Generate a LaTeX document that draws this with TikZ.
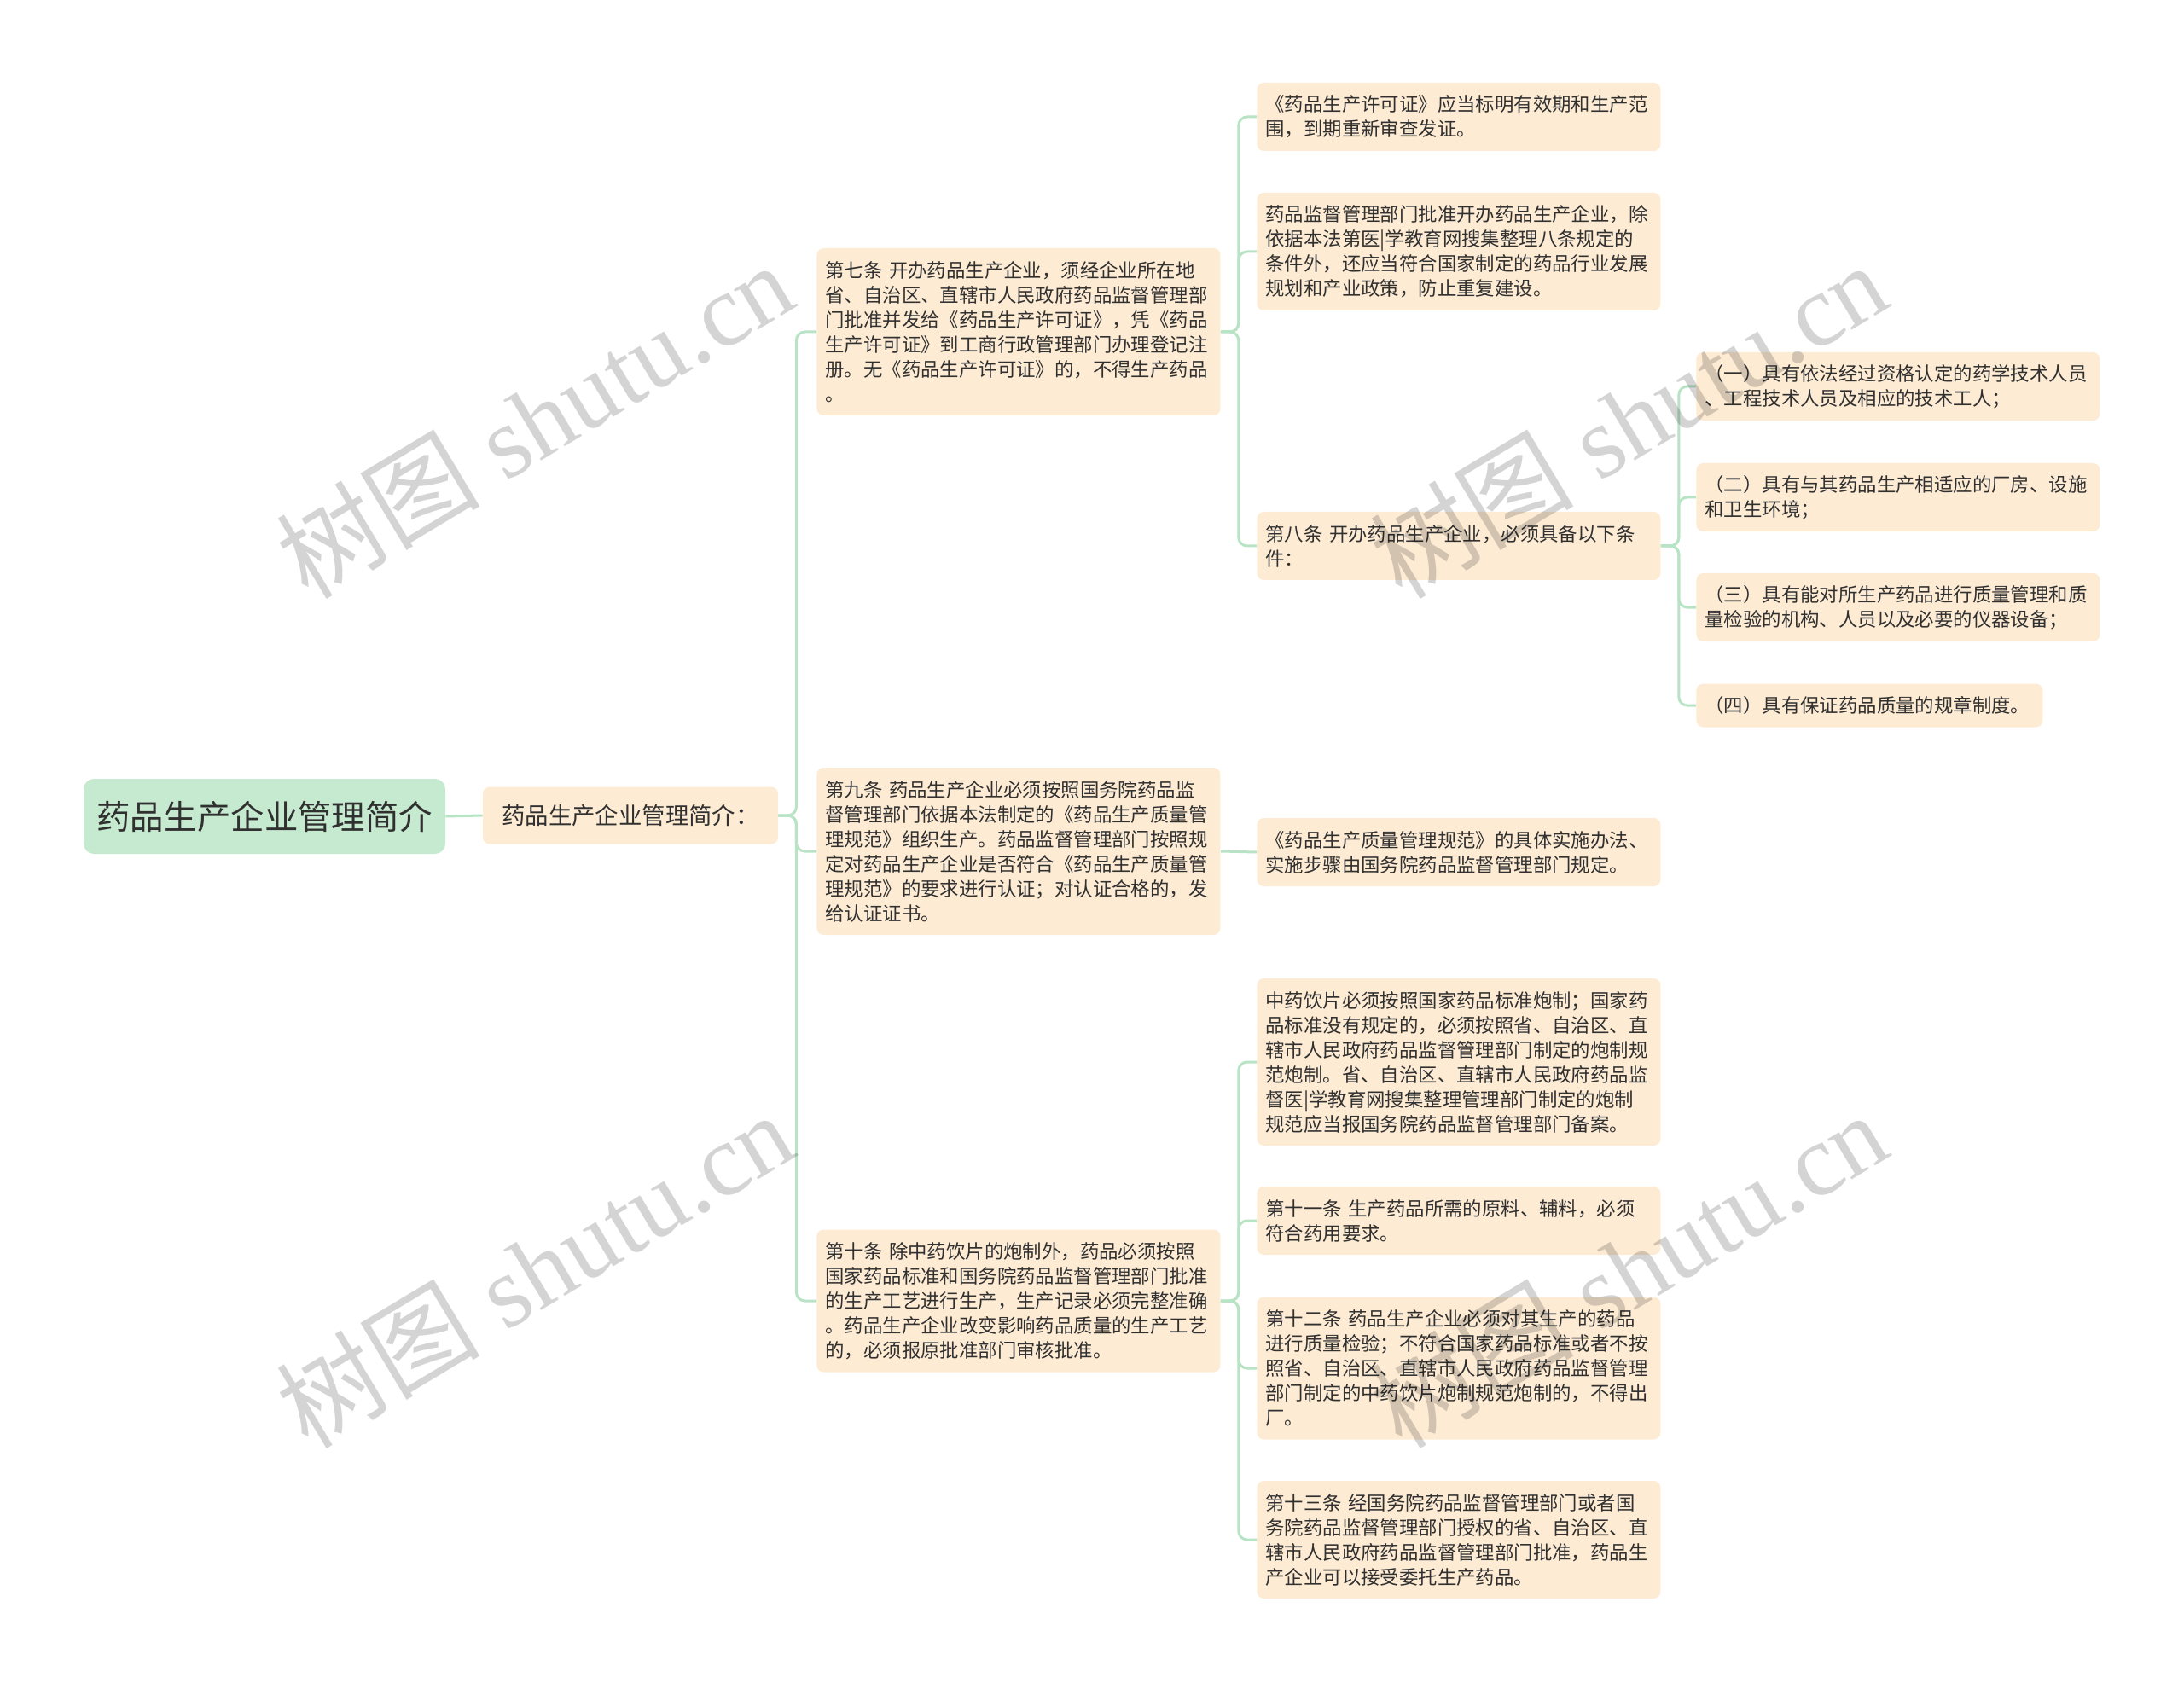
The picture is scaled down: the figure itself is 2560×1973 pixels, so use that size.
\documentclass[tikz,border=0pt]{standalone}
\usepackage{fontspec}
\setmainfont{Noto Sans CJK SC}
\newfontfamily\markfont{Liberation Serif}
\usepackage{tikz}

\definecolor{rootgreen}{RGB}{197,234,207}
\definecolor{notepeach}{RGB}{253,235,212}
\definecolor{linkgreen}{RGB}{184,228,197}
\definecolor{inkgray}{RGB}{48,48,48}

\begin{document}
\begin{tikzpicture}[x=0.5pt, y=-0.5pt,
		every node/.style={text=inkgray},
		rootbox/.style={fill=rootgreen, rounded corners=6pt, minimum width=212pt, minimum height=44pt, font=\fontsize{19.7pt}{24pt}\selectfont},
		introbox/.style={fill=notepeach, rounded corners=4pt, minimum width=173pt, minimum height=33.5pt, font=\fontsize{13.7pt}{16pt}\selectfont},
		notebox/.style={fill=notepeach, rounded corners=4pt, anchor=west, align=left, inner xsep=5pt, inner ysep=1pt, text width=226.5pt, minimum height={#1*14.5pt+11pt}, font=\fontsize{11.2pt}{14.5pt}\selectfont},
		link/.style={draw=linkgreen, line width=1.5pt, rounded corners=5pt},
		watermark/.style={anchor=base west, rotate=31, text=black, text opacity=0.17, font=\markfont\fontsize{60pt}{60pt}\selectfont}]
			\useasboundingbox (0,0) rectangle (2560,1973);
			
			% Root and first level
			\node[rootbox] (root) at (310,957) {药品生产企业管理简介};
			\node[introbox] (intro) at (739,956) {药品生产企业管理简介：};
			
			% Second level: articles
			\node[notebox=6] (art7) at (957,389) {第七条 开办药品生产企业，须经企业所在地\\省、自治区、直辖市人民政府药品监督管理部\\门批准并发给《药品生产许可证》，凭《药品\\生产许可证》到工商行政管理部门办理登记注\\册。无《药品生产许可证》的，不得生产药品\\。};
			\node[notebox=6] (art9) at (957,998) {第九条 药品生产企业必须按照国务院药品监\\督管理部门依据本法制定的《药品生产质量管\\理规范》组织生产。药品监督管理部门按照规\\定对药品生产企业是否符合《药品生产质量管\\理规范》的要求进行认证；对认证合格的，发\\给认证证书。};
			\node[notebox=5] (art10) at (957,1525) {第十条 除中药饮片的炮制外，药品必须按照\\国家药品标准和国务院药品监督管理部门批准\\的生产工艺进行生产，生产记录必须完整准确\\。药品生产企业改变影响药品质量的生产工艺\\的，必须报原批准部门审核批准。};
			
			% Third level
			\node[notebox=2] (permit) at (1473,137) {《药品生产许可证》应当标明有效期和生产范\\围，到期重新审查发证。};
			\node[notebox=4] (approve) at (1473,295) {药品监督管理部门批准开办药品生产企业，除\\依据本法第医|学教育网搜集整理八条规定的\\条件外，还应当符合国家制定的药品行业发展\\规划和产业政策，防止重复建设。};
			\node[notebox=2] (art8) at (1473,640) {第八条 开办药品生产企业，必须具备以下条\\件：};
			\node[notebox=2] (gmp) at (1473,999) {《药品生产质量管理规范》的具体实施办法、\\实施步骤由国务院药品监督管理部门规定。};
			\node[notebox=6] (herbal) at (1473,1245) {中药饮片必须按照国家药品标准炮制；国家药\\品标准没有规定的，必须按照省、自治区、直\\辖市人民政府药品监督管理部门制定的炮制规\\范炮制。省、自治区、直辖市人民政府药品监\\督医|学教育网搜集整理管理部门制定的炮制\\规范应当报国务院药品监督管理部门备案。};
			\node[notebox=2] (art11) at (1473,1431) {第十一条 生产药品所需的原料、辅料，必须\\符合药用要求。};
			\node[notebox=5] (art12) at (1473,1604) {第十二条 药品生产企业必须对其生产的药品\\进行质量检验；不符合国家药品标准或者不按\\照省、自治区、直辖市人民政府药品监督管理\\部门制定的中药饮片炮制规范炮制的，不得出\\厂。};
			\node[notebox=4] (art13) at (1473,1805) {第十三条 经国务院药品监督管理部门或者国\\务院药品监督管理部门授权的省、自治区、直\\辖市人民政府药品监督管理部门批准，药品生\\产企业可以接受委托生产药品。};
			
			% Fourth level: conditions of article 8
			\node[notebox=2] (cond1) at (1988,453) {（一）具有依法经过资格认定的药学技术人员\\、工程技术人员及相应的技术工人；};
			\node[notebox=2] (cond2) at (1988,583) {（二）具有与其药品生产相适应的厂房、设施\\和卫生环境；};
			\node[notebox=2] (cond3) at (1988,712) {（三）具有能对所生产药品进行质量管理和质\\量检验的机构、人员以及必要的仪器设备；};
			\node[notebox=1, text width=193pt] (cond4) at (1988,827) {（四）具有保证药品质量的规章制度。};
			
			% Connectors
			\draw[link] (root.east) -- (intro.west);
			\foreach \child in {art7,art9,art10}
				\draw[link] (intro.east) -- ++(21,0) |- (\child.west);
			\foreach \child in {permit,approve,art8}
				\draw[link] (art7.east) -- ++(21,0) |- (\child.west);
			\draw[link] (art9.east) -- (gmp.west);
			\foreach \child in {herbal,art11,art12,art13}
				\draw[link] (art10.east) -- ++(21,0) |- (\child.west);
			\foreach \child in {cond1,cond2,cond3,cond4}
				\draw[link] (art8.east) -- ++(21,0) |- (\child.west);
			
			% Watermarks
			\foreach \wx/\wy [count=\i] in {355/708, 1637/708, 355/1704, 1637/1704}
				\node[watermark] (mark\i) at (\wx,\wy) {{\normalfont 树图} shutu.cn};
			
		\end{tikzpicture}
\end{document}
